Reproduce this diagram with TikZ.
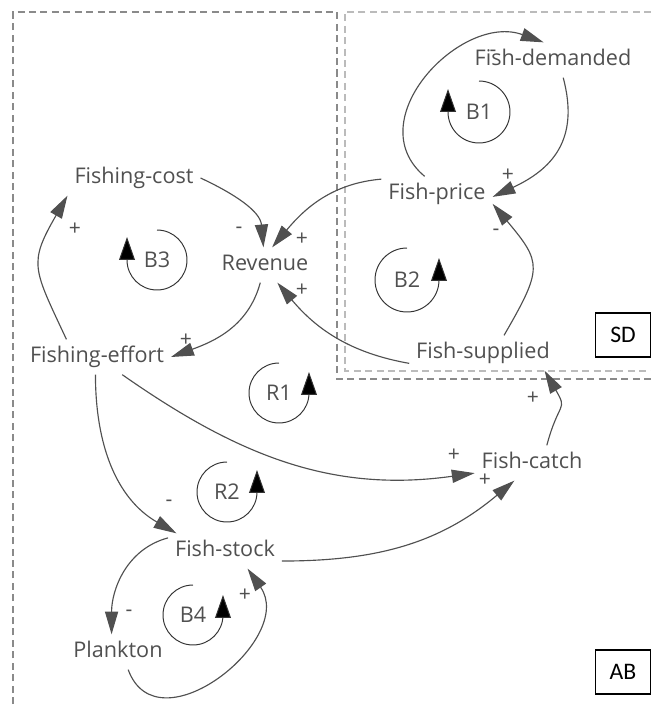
\documentclass[tikz,border=0pt]{standalone}
\usepackage{fontspec}
\setmainfont{Open Sans}
\newfontfamily\tagfont{Carlito}
\usetikzlibrary{arrows.meta}
\definecolor{cldgray}{HTML}{505050}
\definecolor{cldmid}{HTML}{8A8A8A}
\definecolor{cldlight}{HTML}{BBBBBB}
\begin{document}
\begin{tikzpicture}[x=0.02cm, y=0.02cm,
	var/.style={text=cldgray, font=\fontsize{12.3}{14}\selectfont, inner sep=1pt, outer sep=3pt, text height=9.3pt, text depth=2.8pt},
	looplabel/.style={text=cldgray, font=\fontsize{12.3}{14}\selectfont, inner sep=0pt},
	sign/.style={text=cldgray, font=\fontsize{12}{14}\selectfont, inner sep=0pt},
	link/.style={draw=cldgray, line width=0.65pt, -{Triangle[length=13pt,width=7.5pt]}},
	looparc/.style={draw=black!80, line width=0.55pt, -{Triangle[length=13pt,width=9pt,fill=black]}},
	abline/.style={draw=cldmid, line width=0.6pt, dash pattern=on 4pt off 2.5pt},
	sdline/.style={draw=cldlight, line width=0.6pt, dash pattern=on 4pt off 2.5pt},
	tag/.style={draw, line width=0.6pt, font=\tagfont\fontsize{13.5}{15}\selectfont, minimum width=1.1cm, minimum height=0.88cm, inner sep=0pt}]
	\useasboundingbox (0,0) rectangle (651,708);
	% sector outlines
	\draw[abline] (13,4) -- (13,696) -- (337,696) -- (337,329) -- (651,329);
	\draw[sdline] (651,696) -- (345,696) -- (345,337) -- (651,337);
	\node[tag] (sd) at (623,373) {SD};
	\node[tag] (ab) at (623,36) {AB};
	% variables
	\node[var] (fc)  at (134,530) {Fishing-cost};
	\node[var] (rev) at (265,443) {Revenue};
	\node[var] (fe)  at (97,351)  {Fishing-effort};
	\node[var] (fd)  at (553,648) {Fish-demanded};
	\node[var] (fp)  at (437,514) {Fish-price};
	\node[var] (fs)  at (483,355) {Fish-supplied};
	\node[var] (fca) at (532,245) {Fish-catch};
	\node[var] (fst) at (225,157) {Fish-stock};
	\node[var] (pl)  at (118,56)  {Plankton};
	% links
	\draw[link] (fc.east) to[out=-25, in=95] (rev.95);
	\draw[link] (fp.165) to[out=185, in=50] (rev.68);
	\draw[link] (fs.188) to[out=170, in=-50] (rev.-55);
	\draw[link] (rev.-105) to[out=-105, in=20] (fe.east);
	\draw[link] (fe.150) to[out=115, in=-120, looseness=1.4] (fc.south west);
	\draw[link] (fp.125) to[out=140, in=160, looseness=1.25] (fd.118);
	\draw[link] (fd.-60) to[out=-75, in=25, looseness=1.2] (fp.-3);
	\draw[link] (fs.40) to[out=60, in=-50, looseness=1.5] (fp.-10);
	\draw[link] (fe.-35) to[out=-35, in=188] (fca.190);
	\draw[link] (fe.-95) to[out=-90, in=150] (fst.160);
	\draw[link] (fst.-10) to[out=0, in=-140] (fca.-135);
	\draw[link] (fca.50) to[out=75, in=-60, looseness=1.6] (fs.-16);
	\draw[link] (fst.167) to[out=195, in=90] (pl.110);
	\draw[link] (pl.-60) to[out=-70, in=-55, looseness=1.4] (fst.-38);
	% polarities
	\node[sign] (s1)  at (239,478) {-};
	\node[sign] (s2)  at (302,469) {+};
	\node[sign] (s3)  at (302,418) {+};
	\node[sign] (s4)  at (186,368) {+};
	\node[sign] (s5)  at (75,479)  {+};
	\node[sign] (s6)  at (493,655) {-};
	\node[sign] (s7)  at (508,533) {+};
	\node[sign] (s8)  at (496,476) {-};
	\node[sign] (s9)  at (454,253) {+};
	\node[sign] (s10) at (169,205) {-};
	\node[sign] (s11) at (485,228) {+};
	\node[sign] (s12) at (533,310) {+};
	\node[sign] (s13) at (129,95)  {-};
	\node[sign] (s14) at (245,113) {+};
	% loops
	\node[looplabel] (b1) at (479,596) {B1};
	\node[looplabel] (b2) at (407,428) {B2};
	\node[looplabel] (b3) at (157,448) {B3};
	\node[looplabel] (r1) at (279,315) {R1};
	\node[looplabel] (r2) at (227,216) {R2};
	\node[looplabel] (b4) at (193,93)  {B4};
	\draw[looparc] (b1.center) ++(90:0.62cm) arc[start angle=90, end angle=-180, radius=0.62cm] -- ++(0cm,0.46cm);
	\draw[looparc] (b2.center) ++(90:0.64cm) arc[start angle=90, end angle=360, radius=0.64cm] -- ++(0cm,0.44cm);
	\draw[looparc] (b3.center) ++(90:0.6cm) arc[start angle=90, end angle=-180, radius=0.6cm] -- ++(0cm,0.46cm);
	\draw[looparc] (r1.center) ++(90:0.6cm) arc[start angle=90, end angle=360, radius=0.6cm] -- ++(0cm,0.42cm);
	\draw[looparc] (r2.center) ++(90:0.6cm) arc[start angle=90, end angle=360, radius=0.6cm] -- ++(0cm,0.44cm);
	\draw[looparc] (b4.center) ++(90:0.6cm) arc[start angle=90, end angle=360, radius=0.6cm] -- ++(0cm,0.4cm);
\end{tikzpicture}
\end{document}
